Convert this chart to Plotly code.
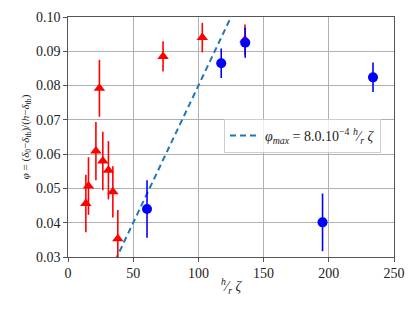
import plotly.graph_objects as go

# Red triangle series
red_x = [13.7, 15.7, 21.4, 24.1, 26.7, 31.0, 34.4, 38.2, 72.9, 103.0, 135.7]
red_y = [0.0456, 0.0507, 0.0609, 0.0792, 0.0580, 0.0553, 0.0490, 0.0353, 0.0885, 0.0940, 0.0934]
red_err = [0.0084, 0.0084, 0.0085, 0.0083, 0.0085, 0.0085, 0.0075, 0.0084, 0.0044, 0.0043, 0.0044]

# Blue circle series
blue_x = [60.6, 117.5, 135.9, 195.2, 233.9]
blue_y = [0.0440, 0.0865, 0.0925, 0.0401, 0.0824]
blue_err = [0.0084, 0.0043, 0.0044, 0.0084, 0.0043]

# Fit line phi_max = slope * x
slope = 8.0e-4
line_x = [0, 250]
line_y = [slope * v for v in line_x]

FONT = "'Liberation Serif', 'DejaVu Serif', serif"

fig = go.Figure()
fig.add_trace(go.Scatter(
    x=line_x, y=line_y, mode="lines",
    line=dict(color="#1f77b4", width=2, dash="6px,4px"),
    name="<i>φ<sub>max</sub></i> = 8.0.10<sup>−4</sup> <sup><i>h</i></sup>⁄<sub><i>r</i></sub> <i>ζ</i>",
    showlegend=True,
))
fig.add_trace(go.Scatter(
    x=red_x, y=red_y, mode="markers",
    marker=dict(symbol="triangle-up", color="red", size=10),
    error_y=dict(type="data", array=red_err, color="red", thickness=1.6, width=0),
    showlegend=False,
))
fig.add_trace(go.Scatter(
    x=blue_x, y=blue_y, mode="markers",
    marker=dict(symbol="circle", color="blue", size=10),
    error_y=dict(type="data", array=blue_err, color="blue", thickness=1.6, width=0),
    showlegend=False,
))

axis_common = dict(
    showgrid=True, gridcolor="#b0b0b0", gridwidth=0.8,
    showline=True, linecolor="#555555", linewidth=1.2, mirror=True,
    ticks="outside", ticklen=3.5, tickcolor="#555555",
    zeroline=False, ticklabeloverflow="allow",
    tickfont=dict(family=FONT, size=14, color="#222222"),
)

fig.update_layout(
    width=415, height=311,
    margin=dict(l=60, r=29, t=2, b=62),
    paper_bgcolor="white", plot_bgcolor="white",
    font=dict(family=FONT, size=13, color="#222222"),
    xaxis=dict(range=[0, 250], tickvals=[0, 50, 100, 150, 200, 250],
               title=dict(text="<sup><i>h</i></sup>⁄<sub><i>r</i></sub> <i>ζ</i>",
                          font=dict(family=FONT, size=14), standoff=0),
               **axis_common),
    yaxis=dict(range=[0.03, 0.10], tickvals=[0.03, 0.04, 0.05, 0.06, 0.07, 0.08, 0.09, 0.10],
               tickformat=".2f",
               title=dict(text="<i>φ</i> = (<i>δ</i><sub>0</sub>−<i>δ</i><sub>th</sub>)/(<i>h</i>−<i>δ</i><sub>th</sub>)",
                          font=dict(family=FONT, size=11), standoff=4),
               **axis_common),
    legend=dict(x=0.96, y=0.505, xanchor="right", yanchor="middle",
                bgcolor="rgba(255,255,255,0.8)", bordercolor="#cccccc", borderwidth=1,
                font=dict(family=FONT, size=14)),
)

fig.write_html("out.html")
